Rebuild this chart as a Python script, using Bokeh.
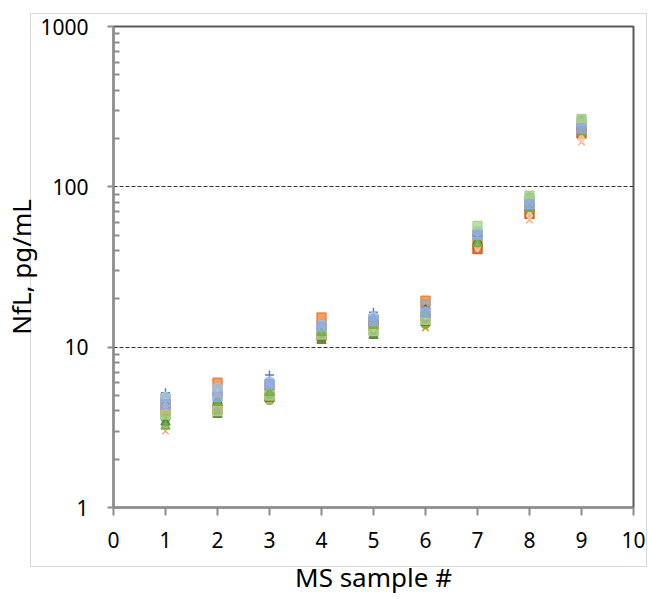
from bokeh.plotting import figure
from bokeh.models import FixedTicker, Range1d, ColumnDataSource
from bokeh.embed import file_html
from bokeh.resources import INLINE

samples = [1, 2, 3, 4, 5, 6, 7, 8, 9]

rep01 = [5.2, 5.4, 6.7, 14.0, 16.5, 17.5, 52, 82, 250]
rep02 = [4.6, 6.0, 5.7, 15.3, 14.5, 19.5, 44, 78, 240]
rep03 = [4.8, 5.3, 5.8, 13.5, 15.0, 18.5, 50, 80, 235]
rep04 = [4.2, 4.8, 5.0, 12.0, 13.0, 14.5, 47, 72, 225]
rep05 = [4.5, 5.0, 5.5, 13.0, 14.0, 16.0, 49, 76, 245]
rep06 = [3.6, 3.9, 4.7, 11.5, 12.2, 14.0, 50, 86, 262]
rep07 = [3.0, 4.3, 4.6, 11.2, 12.5, 15.0, 43, 62, 190]
rep08 = [4.4, 4.6, 5.2, 12.5, 14.8, 17.0, 51, 79, 238]
rep09 = [4.0, 4.1, 4.9, 11.8, 13.5, 15.5, 41, 68, 215]
rep10 = [4.7, 5.1, 5.4, 12.8, 13.8, 17.8, 55, 83, 230]
rep11 = [4.1, 4.4, 5.1, 12.2, 12.8, 13.2, 45, 70, 210]
rep12 = [3.4, 3.8, 4.8, 11.0, 11.8, 14.2, 46, 74, 255]
rep13 = [4.9, 5.6, 6.1, 13.8, 15.5, 16.5, 53, 81, 248]
rep14 = [4.3, 5.0, 5.3, 12.6, 13.2, 15.8, 42, 66, 200]
rep15 = [4.6, 5.2, 5.6, 13.2, 14.2, 16.8, 48, 77, 242]
rep16 = [3.8, 4.0, 5.0, 12.0, 12.6, 14.8, 57, 88, 265]
rep17 = [3.2, 4.5, 5.2, 12.3, 13.6, 16.2, 44, 73, 220]
rep18 = [4.4, 4.9, 5.9, 13.4, 14.6, 16.4, 50, 78, 232]

series = [rep01, rep02, rep03, rep04, rep05, rep06, rep07, rep08, rep09,
          rep10, rep11, rep12, rep13, rep14, rep15, rep16, rep17, rep18]
colors = ["#4472C4", "#ED7D31", "#A5A5A5", "#FFC000", "#5B9BD5", "#70AD47",
          "#F4A07A", "#264478", "#C55A11", "#7F7F7F", "#BF9000", "#548235",
          "#9DC3E6", "#F8CBAD", "#C9C9C9", "#A9D18E", "#70AD47", "#8FAADC"]
markers = ["cross", "square", "square", "cross", "diamond", "circle",
           "x", "triangle", "square", "dash", "x", "triangle",
           "circle", "diamond", "cross", "square", "triangle", "square"]

x_ticks = list(range(0, 11))
y_major = [1, 10, 100, 1000]
y_minor = [m * d for d in (1, 10, 100) for m in range(2, 10)]
grid_values = [10, 100]

p = figure(frame_width=520, frame_height=481, y_axis_type="log",
           x_range=Range1d(0, 10), y_range=Range1d(1, 1000),
           output_backend="svg", toolbar_location=None,
           min_border_left=113, min_border_right=15,
           min_border_top=26, min_border_bottom=92)

for vals, c, m in zip(series, colors, markers):
    src = ColumnDataSource(dict(x=samples, y=vals))
    p.scatter("x", "y", source=src, marker=m, size=9, line_color=c,
              fill_color=c, fill_alpha=0.75, line_alpha=0.9, line_width=1.5)

p.outline_line_color = "#595959"
p.outline_line_width = 2

p.xgrid.visible = False
p.ygrid.ticker = FixedTicker(ticks=grid_values)
p.ygrid.grid_line_color = "#333333"
p.ygrid.grid_line_dash = "4 2"
p.ygrid.grid_line_width = 1

font = "Noto Sans"
p.xaxis.ticker = FixedTicker(ticks=x_ticks)
p.yaxis.ticker = FixedTicker(ticks=y_major, minor_ticks=y_minor)
p.yaxis.major_label_overrides = {1: "1", 10: "10", 100: "100", 1000: "1000"}

for ax in (p.xaxis[0], p.yaxis[0]):
    ax.axis_line_color = "#8C8C8C"
    ax.axis_line_width = 2
    ax.major_tick_line_color = "#8C8C8C"
    ax.minor_tick_line_color = "#8C8C8C"
    ax.major_tick_line_width = 2
    ax.minor_tick_line_width = 2
    ax.major_label_text_font = font
    ax.major_label_text_font_size = "21px"
    ax.major_label_text_color = "#000000"
    ax.axis_label_text_font = font
    ax.axis_label_text_font_size = "26px"
    ax.axis_label_text_font_style = "normal"
    ax.axis_label_text_color = "#000000"

p.xaxis.major_tick_out = 8
p.xaxis.major_tick_in = 0
p.xaxis.minor_tick_out = 0
p.xaxis.minor_tick_in = 0
p.xaxis.major_label_standoff = 16
p.xaxis.axis_label = "MS sample #"
p.xaxis.axis_label_standoff = 8

p.yaxis.major_tick_out = 6
p.yaxis.major_tick_in = 0
p.yaxis.minor_tick_out = 0
p.yaxis.minor_tick_in = 6
p.yaxis.major_label_standoff = 19
p.yaxis.axis_label = "NfL, pg/mL"
p.yaxis.axis_label_standoff = -2

p.background_fill_color = "white"
p.border_fill_color = None
g = "linear-gradient(#D9D9D9,#D9D9D9)"
p.styles = {
    "background": (f"{g} 30px 13px / 617px 1px no-repeat, "
                   f"{g} 30px 566px / 617px 1px no-repeat, "
                   f"{g} 30px 13px / 1px 554px no-repeat, "
                   f"{g} 646px 13px / 1px 554px no-repeat, white"),
}

open("out.html", "w").write(file_html(p, INLINE))
